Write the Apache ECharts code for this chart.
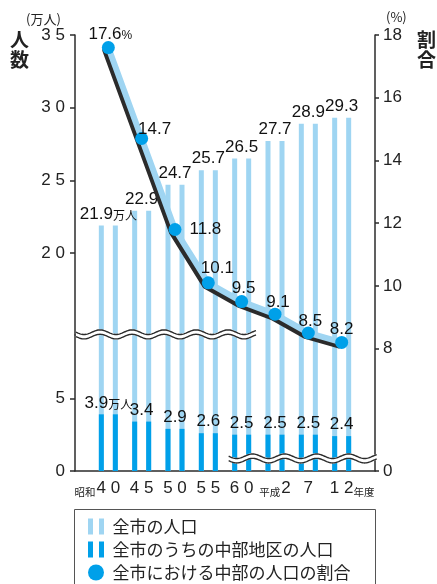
<!DOCTYPE html>
<html lang="ja">
<head>
<meta charset="UTF-8">
<title>中部地区の人口</title>
<script src="https://cdn.jsdelivr.net/npm/echarts@6/dist/echarts.min.js"></script>
<style>
  html, body { margin: 0; padding: 0; background: #fff; }
</style>
</head>
<body>
<div id="main" style="width:437px;height:584px;"></div>
<script type="text/javascript">
// データ（昭和40年度〜平成12年度）
var years = ['40', '45', '50', '55', '60', '2', '7', '12'];
var eraPrefix = ['昭和', '', '', '', '', '平成', '', ''];
var totalPop = [21.9, 22.9, 24.7, 25.7, 26.5, 27.7, 28.9, 29.3];   // 全市の人口（万人）
var centralPop = [3.9, 3.4, 2.9, 2.6, 2.5, 2.5, 2.5, 2.4];        // 中部地区の人口（万人）
var centralShare = [17.6, 14.7, 11.8, 10.1, 9.5, 9.1, 8.5, 8.2];  // 割合（%）
var leftTicks = [0, 5, 20, 25, 30, 35];
var rightTicks = [0, 8, 10, 12, 14, 16, 18];

var LIGHT = '#9fd5f2';
var BLUE = '#00a0e9';
var INK = '#2b2b2b';
var NUM = "'Liberation Sans Narrow', 'Liberation Sans', sans-serif";
var AXNUM = "'Liberation Sans', sans-serif";
var JP = "'Noto Sans CJK JP', sans-serif";

// 軸の省略範囲
var leftBreak = [9.4, 14.4];
var rightBreak = [0.4, 4.5];

// 左右に空きを作るため、両端に空のカテゴリを置く
var cats = [''].concat(years, ['']);
function pad(arr) { return [null].concat(arr, [null]); }

// 折れ線ラベルの位置（見た目の調整）
var sharePos = ['top', 'top', 'right', 'top', 'top', 'top', 'top', 'top'];
var shareOffset = [[2, 2], [13, 6], [4, 0], [9, 1], [2, 2], [3, 3], [2, 3], [0, 2]];

function spaced(v) { return String(v).split('').join(' '); }

var myChart = echarts.init(document.getElementById('main'));

var shareData = centralShare.map(function (v, i) {
    return {
        value: v,
        label: { position: sharePos[i], offset: shareOffset[i], distance: sharePos[i] === 'right' ? 4 : 0 }
    };
});

var barLabelRich = {
    v: { fontSize: 17, fontFamily: NUM, color: '#111' },
    u: { fontSize: 12, fontFamily: JP, color: '#111', padding: [3, 0, 0, 0] }
};

var barIcon = 'path://M0,0h5v16h-5zM11,0h5v16h-5z';

myChart.setOption({
    animation: false,
    grid: { left: 75, right: 62, top: 35, bottom: 113 },
    xAxis: [{
        type: 'category',
        data: cats,
        boundaryGap: false,
        axisLine: { lineStyle: { color: INK, width: 1.5 } },
        axisTick: { show: false },
        axisLabel: {
            interval: 0,
            margin: 9,
            formatter: function (v) {
                var i = years.indexOf(v);
                if (i < 0) return '';
                if (i === years.length - 1) return '{e|}{n|' + spaced(v) + '}{s|年度}';
                if (eraPrefix[i] === '昭和') return '{s|昭和}{n|' + spaced(v) + '}{e|}';
                if (eraPrefix[i]) return '{s|' + eraPrefix[i] + '}{n|' + spaced(v) + '}';
                return '{n|' + spaced(v) + '}';
            },
            rich: {
                n: { fontSize: 17, fontFamily: AXNUM, color: '#222' },
                s: { fontSize: 10.5, fontFamily: JP, color: '#222', verticalAlign: 'bottom', padding: [5, 1, 0, 0] },
                e: { width: 22 }
            }
        }
    }, {
        type: 'category',
        data: cats,
        boundaryGap: false,
        show: false
    }],
    yAxis: [{
        type: 'value',
        min: 0,
        max: 35,
        breaks: [{ start: leftBreak[0], end: leftBreak[1], gap: 0 }],
        breakArea: { show: false },
        axisLine: { show: true, lineStyle: { color: INK, width: 1.5 } },
        axisTick: { show: true, length: 5, customValues: leftTicks, lineStyle: { color: INK, width: 1.5 } },
        axisLabel: {
            customValues: leftTicks,
            margin: 10,
            fontSize: 17,
            fontFamily: AXNUM,
            color: '#222',
            formatter: function (v) { return spaced(v); }
        },
        splitLine: { show: false }
    }, {
        type: 'value',
        position: 'right',
        min: 0,
        max: 18,
        breaks: [{ start: rightBreak[0], end: rightBreak[1], gap: 0 }],
        breakArea: { show: false },
        axisLine: { show: true, lineStyle: { color: INK, width: 1.5 } },
        axisTick: { show: true, length: 4, customValues: rightTicks, lineStyle: { color: INK, width: 1.5 } },
        axisLabel: {
            customValues: rightTicks,
            margin: 8,
            fontSize: 17,
            fontFamily: AXNUM,
            color: '#222'
        },
        splitLine: { show: false }
    }],
    legend: {
        orient: 'vertical',
        left: 88,
        top: 518,
        itemWidth: 17,
        itemHeight: 16,
        itemGap: 6,
        padding: 0,
        selectedMode: false,
        textStyle: { fontSize: 17, lineHeight: 17, fontFamily: JP, color: '#222', padding: [0, 0, 0, 3] },
        data: [
            { name: '全市の人口', icon: barIcon, itemStyle: { color: LIGHT } },
            { name: '全市のうちの中部地区の人口', icon: barIcon, itemStyle: { color: BLUE } },
            { name: '全市における中部の人口の割合', icon: 'circle', itemStyle: { color: BLUE }, lineStyle: { width: 0 } }
        ]
    },
    series: [{
        name: '全市の人口',
        type: 'bar',
        xAxisIndex: 0,
        yAxisIndex: 0,
        data: pad(totalPop),
        barWidth: 5,
        barGap: '180%',
        itemStyle: { color: LIGHT },
        label: {
            show: true,
            position: 'top',
            offset: [7, 0],
            distance: 3,
            formatter: function (p) {
                return p.dataIndex === 1 ? '{v|' + p.value + '}{u|万人}' : '{v|' + p.value + '}';
            },
            rich: barLabelRich
        }
    }, {
        name: '全市の人口',
        type: 'bar',
        xAxisIndex: 0,
        yAxisIndex: 0,
        data: pad(totalPop),
        barWidth: 5,
        barGap: '180%',
        itemStyle: { color: LIGHT }
    }, {
        name: '全市のうちの中部地区の人口',
        type: 'bar',
        xAxisIndex: 1,
        yAxisIndex: 0,
        data: pad(centralPop),
        barWidth: 5,
        barGap: '180%',
        itemStyle: { color: BLUE },
        label: {
            show: true,
            position: 'top',
            offset: [7, 0],
            distance: 3,
            formatter: function (p) {
                return p.dataIndex === 1 ? '{v|' + p.value + '}{u|万人}' : '{v|' + p.value + '}';
            },
            rich: barLabelRich
        }
    }, {
        name: '全市のうちの中部地区の人口',
        type: 'bar',
        xAxisIndex: 1,
        yAxisIndex: 0,
        data: pad(centralPop),
        barWidth: 5,
        barGap: '180%',
        itemStyle: { color: BLUE }
    }, {
        name: '全市における中部の人口の割合',
        type: 'line',
        xAxisIndex: 0,
        yAxisIndex: 1,
        data: pad(shareData),
        z: 5,
        symbol: 'circle',
        symbolSize: 13,
        itemStyle: { color: BLUE },
        lineStyle: {
            color: LIGHT,
            width: 6,
            cap: 'round',
            join: 'round',
            shadowColor: INK,
            shadowBlur: 0,
            shadowOffsetX: -3,
            shadowOffsetY: 3
        },
        label: {
            show: true,
            formatter: function (p) {
                return p.dataIndex === 1 ? '{v|' + p.value + '}{u|%}' : '{v|' + p.value + '}';
            },
            rich: {
                v: { fontSize: 17, fontFamily: NUM, color: '#111' },
                u: { fontSize: 12, fontFamily: NUM, color: '#111', padding: [3, 0, 0, 0] }
            }
        }
    }]
});

// 省略の波線（白い帯と二本の波線）
function wave(x1, x2, yc) {
    var period = 32, amp = 2.3, step = 1;
    function pts(off) {
        var out = [];
        for (var x = x1; x <= x2 + 0.01; x += step) {
            out.push([x, yc + off + amp * Math.sin((x - x1) / period * 2 * Math.PI)]);
        }
        return out;
    }
    var top = pts(-2.2), bottom = pts(2.2);
    var bandTop = pts(-3), bandBottom = pts(3);
    return [
        { type: 'polygon', z: 50, shape: { points: bandTop.concat(bandBottom.reverse()) }, style: { fill: '#fff' } },
        { type: 'polyline', z: 51, shape: { points: top }, style: { stroke: INK, lineWidth: 1.4, fill: null } },
        { type: 'polyline', z: 51, shape: { points: bottom }, style: { stroke: INK, lineWidth: 1.4, fill: null } }
    ];
}

var x40 = myChart.convertToPixel({ xAxisIndex: 0 }, years[0]);
var x12 = myChart.convertToPixel({ xAxisIndex: 0 }, years[years.length - 1]);
var x60 = myChart.convertToPixel({ xAxisIndex: 0 }, '60');
var step = (x12 - x40) / (years.length - 1);
var gridL = x40 - step, gridR = x12 + step;
var yL = myChart.convertToPixel({ yAxisIndex: 0 }, leftBreak[0]);
var yR = myChart.convertToPixel({ yAxisIndex: 1 }, rightBreak[0]);

var texts = [
    { type: 'text', left: 26, top: 13, style: { text: '(万人)', fontSize: 13, fontFamily: JP, fill: '#222' } },
    { type: 'text', left: 10, top: 30, style: { text: '人\n数', fontSize: 19, lineHeight: 20, fontFamily: JP, fontWeight: 'bold', fill: '#222' } },
    { type: 'text', left: 386, top: 11, style: { text: '(%)', fontSize: 13, fontFamily: JP, fill: '#222' } },
    { type: 'text', left: 417, top: 30, style: { text: '割\n合', fontSize: 19, lineHeight: 20, fontFamily: JP, fontWeight: 'bold', fill: '#222' } },
    // 凡例の枠
    { type: 'rect', shape: { x: gridL - 0.5, y: 509.5, width: gridR - gridL + 1, height: 100 }, style: { fill: null, stroke: '#555', lineWidth: 1 } }
];
var waves = wave(gridL + 1, x60 + step * 0.45, yL).concat(wave(x60 - 13, gridR + 2, yR));

myChart.setOption({ graphic: texts.concat(waves) });
</script>
</body>
</html>
